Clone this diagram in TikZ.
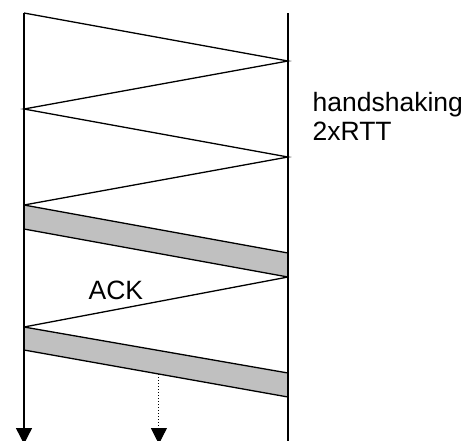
\documentclass[tikz,border=0pt]{standalone}
\usepackage{fontspec}
\setmainfont{Liberation Sans}
\usetikzlibrary{arrows.meta,calc}
\definecolor{bandgray}{RGB}{192,192,192}

\begin{document}
\begin{tikzpicture}[x=1pt, y=-1pt, line width=1.3pt, >={Triangle[width=16pt,length=16pt]},
   band/.style={fill=bandgray, draw=black},
   lbl/.style={anchor=base west, inner sep=0pt, font=\fontsize{26.5}{30}\selectfont}]
   \clip (0,0) rectangle (476,440);
   % left (sender) and right (receiver) time lines
   \coordinate (l_0) at (24,13);   \coordinate (r_0) at (288,61);
   \coordinate (l_1) at (24,109);  \coordinate (r_1) at (288,157);
   \coordinate (l_2) at (24,205);  \coordinate (r_2) at (288,253);
   \coordinate (l_3) at (24,229);  \coordinate (r_3) at (288,277);
   \coordinate (l_4) at (24,327);  \coordinate (r_4) at (288,373);
   \coordinate (l_5) at (24,350);  \coordinate (r_5) at (288,397);
   \coordinate (l_end) at (24,444);
   \coordinate (r_top) at (288,13);
   \coordinate (r_end) at (288,444);
   \coordinate (d_0) at ($(l_5)!0.511!(r_5)$);
   \coordinate (d_end) at (d_0 |- l_end);
   % handshaking
   \draw (l_0) -- (r_0) -- (l_1) -- (r_1) -- (l_2);
   % data bands
   \draw[band] (l_2) -- (r_2) -- (r_3) -- (l_3) -- cycle;
   \draw (r_3) -- (l_4);
   \draw[band] (l_4) -- (r_4) -- (r_5) -- (l_5) -- cycle;
   \draw[->] (l_0) -- (l_end);
   \draw[line width=1.6pt] (r_top) -- (r_end);
   \draw[->, dotted, line width=1pt] (d_0) -- (d_end);
   % labels
   \node[lbl] (hs)  at (312,111) {handshaking};
   \node[lbl] (rtt) at (312,140) {2xRTT};
   \node[lbl] (ack) at (88,299)  {ACK};
\end{tikzpicture}
\end{document}
